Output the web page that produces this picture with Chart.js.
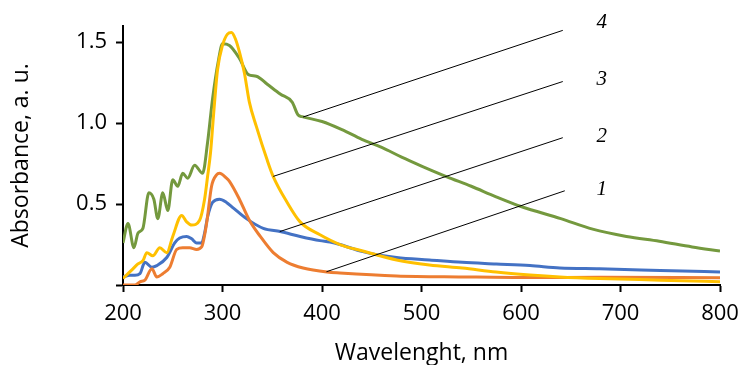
<!DOCTYPE html>
<html>
<head>
<meta charset="utf-8">
<script src="https://cdn.jsdelivr.net/npm/chart.js@4/dist/chart.umd.min.js"></script>
<style>
  html, body { margin: 0; padding: 0; background: #fff; }
  #wrap { width: 740px; height: 365px; }
</style>
</head>
<body>
<div id="wrap"><canvas id="spectra" width="740" height="365"></canvas></div>
<script>
// curve 1 (orange)
const nm1  = [200, 212, 217, 222, 229, 234, 240, 247, 254, 260, 267, 274, 279, 284, 289, 294, 297, 304, 307, 317, 327, 338, 351, 365, 381, 405, 418, 475, 541, 609, 679, 800];
const abs1 = [0.0, 0.0, 0.02, 0.03, 0.10, 0.05, 0.07, 0.11, 0.22, 0.23, 0.23, 0.22, 0.235, 0.38, 0.61, 0.68, 0.69, 0.66, 0.64, 0.53, 0.40, 0.30, 0.20, 0.14, 0.105, 0.08, 0.074, 0.056, 0.05, 0.046, 0.048, 0.045];

// curve 2 (blue)
const nm2  = [200, 207, 212, 217, 222, 229, 234, 244, 252, 257, 264, 269, 274, 279, 282, 285, 290, 297, 304, 310, 324, 341, 358, 378, 398, 408, 418, 441, 475, 508, 541, 575, 609, 639, 679, 740, 800];
const abs2 = [0.05, 0.06, 0.06, 0.07, 0.14, 0.11, 0.12, 0.17, 0.26, 0.29, 0.30, 0.285, 0.26, 0.26, 0.32, 0.42, 0.51, 0.53, 0.51, 0.48, 0.41, 0.35, 0.33, 0.30, 0.274, 0.265, 0.25, 0.206, 0.17, 0.155, 0.14, 0.13, 0.12, 0.105, 0.10, 0.09, 0.08];

// curve 3 (yellow)
const nm3  = [200, 205, 210, 215, 220, 224, 230, 237, 244, 250, 259, 264, 269, 277, 282, 285, 288, 291, 295, 300, 305, 309, 313, 317, 322, 327, 334, 345, 351, 365, 378, 398, 418, 441, 475, 508, 541, 575, 609, 639, 679, 740, 800];
const abs3 = [0.04, 0.07, 0.10, 0.13, 0.15, 0.20, 0.18, 0.23, 0.20, 0.30, 0.43, 0.39, 0.37, 0.40, 0.53, 0.67, 0.82, 1.05, 1.33, 1.48, 1.55, 1.56, 1.52, 1.44, 1.31, 1.13, 0.98, 0.77, 0.67, 0.51, 0.39, 0.31, 0.25, 0.21, 0.155, 0.124, 0.105, 0.08, 0.062, 0.05, 0.04, 0.03, 0.02];

// curve 4 (green)
const nm4  = [200, 205, 211, 215, 220, 226, 231, 235, 240, 245, 250, 255, 260, 265, 272, 280, 285, 290, 296, 300, 307, 317, 326, 334, 345, 358, 370, 376, 380, 400, 420, 440, 460, 480, 500, 525, 550, 575, 600, 640, 672, 706, 739, 772, 800];
const abs4 = [0.26, 0.38, 0.23, 0.32, 0.35, 0.57, 0.53, 0.41, 0.57, 0.46, 0.65, 0.61, 0.69, 0.66, 0.74, 0.69, 0.88, 1.15, 1.39, 1.49, 1.48, 1.40, 1.30, 1.29, 1.24, 1.18, 1.13, 1.05, 1.04, 1.01, 0.96, 0.90, 0.85, 0.79, 0.735, 0.67, 0.61, 0.545, 0.485, 0.41, 0.345, 0.30, 0.27, 0.235, 0.21];

// leader lines: start on the curve, end near the number
const leaderText     = ['1', '2', '3', '4'];
const leaderStartNm  = [404.5, 357.6, 351, 381];
const leaderStartAbs = [0.082, 0.33, 0.671, 1.038];
const leaderEndNm    = [644, 642, 642, 642];
const leaderEndAbs   = [0.582, 0.91, 1.257, 1.573];
const labelNm        = [676, 676, 676, 676];
const labelAbs       = [0.588, 0.916, 1.269, 1.622];

const xTicks = [200, 300, 400, 500, 600, 700, 800];

function pts(xs, ys) {
    return xs.map((x, i) => ({x: x, y: ys[i]}));
}

const tickFont = {family: "'Open Sans', sans-serif", size: 22};
const titleFont = {family: "'Open Sans', sans-serif", size: 23};

const leaders = {
    id: 'leaders',
    afterDatasetsDraw(chart) {
        const {ctx, scales: {x, y}} = chart;
        ctx.save();
        ctx.strokeStyle = '#000';
        ctx.lineWidth = 1;
        for (let i = 0; i < leaderText.length; i++) {
            ctx.beginPath();
            ctx.moveTo(x.getPixelForValue(leaderStartNm[i]), y.getPixelForValue(leaderStartAbs[i]));
            ctx.lineTo(x.getPixelForValue(leaderEndNm[i]), y.getPixelForValue(leaderEndAbs[i]));
            ctx.stroke();
        }
        ctx.fillStyle = '#000';
        ctx.font = "italic 21px 'Liberation Serif', serif";
        ctx.textAlign = 'left';
        ctx.textBaseline = 'middle';
        for (let i = 0; i < leaderText.length; i++) {
            ctx.fillText(leaderText[i], x.getPixelForValue(labelNm[i]), y.getPixelForValue(labelAbs[i]));
        }
        ctx.restore();
    }
};

function line(label, xs, ys, color) {
    return {
        label: label,
        data: pts(xs, ys),
        borderColor: color,
        backgroundColor: color,
        borderWidth: 3,
        pointRadius: 0,
        cubicInterpolationMode: 'monotone',
        fill: false
    };
}

new Chart(document.getElementById('spectra'), {
    type: 'line',
    data: {
        datasets: [
            line('3', nm3, abs3, '#FFC000'),
            line('1', nm1, abs1, '#ED7D31'),
            line('2', nm2, abs2, '#4472C4'),
            line('4', nm4, abs4, '#74993E')
        ]
    },
    options: {
        responsive: false,
        animation: false,
        devicePixelRatio: 1,
        layout: {padding: {top: 26, right: 20, left: 0, bottom: 0}},
        plugins: {legend: {display: false}, tooltip: {enabled: false}},
        scales: {
            x: {
                type: 'linear',
                min: 200,
                max: 800,
                afterFit(s) { s.height = 80; s.paddingLeft = 0; s.paddingRight = 0; },
                afterBuildTicks(s) { s.ticks = xTicks.map(v => ({value: v})); },
                grid: {drawOnChartArea: false, drawTicks: true, tickLength: 7, tickColor: '#000', tickWidth: 2},
                border: {color: '#000', width: 2},
                ticks: {color: '#000', font: tickFont, padding: 9, maxRotation: 0},
                title: {display: true, text: 'Wavelenght, nm', color: '#000', font: titleFont, padding: {top: 0, bottom: -2}}
            },
            y: {
                min: 0,
                max: 1.6,
                afterFit(s) { s.width = 123; s.paddingTop = 0; s.paddingBottom = 0; },
                grid: {drawOnChartArea: false, drawTicks: true, tickLength: 7, tickColor: '#000', tickWidth: 2},
                border: {color: '#000', width: 2},
                ticks: {
                    stepSize: 0.5,
                    includeBounds: false,
                    color: '#000',
                    font: tickFont,
                    padding: 9,
                    callback: v => v === 0 ? '' : v.toFixed(1)
                },
                title: {display: true, text: 'Absorbance, a. u.', color: '#000', font: titleFont, padding: {top: 8, bottom: 0}}
            }
        }
    },
    plugins: [leaders]
});
</script>
</body>
</html>
